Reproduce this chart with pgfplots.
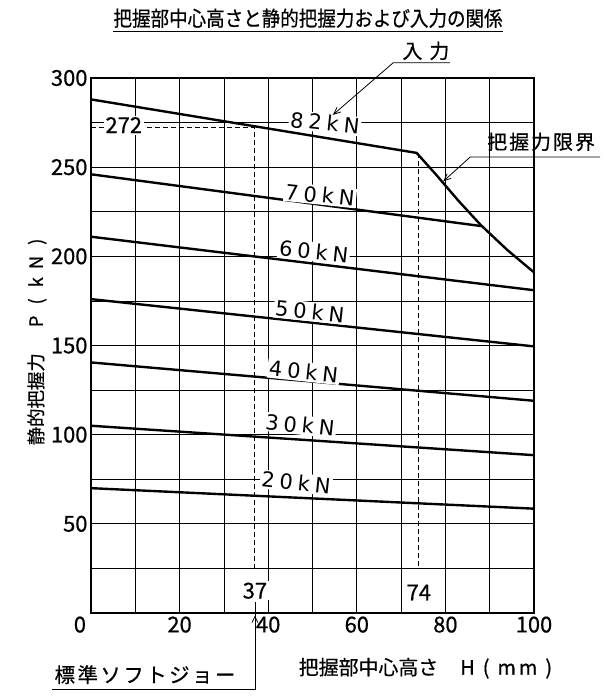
\documentclass[border=0pt]{standalone}
\usepackage{pgfplots}
\pgfplotsset{compat=1.18}
\usepackage{fontspec}
\setmainfont{Noto Sans CJK JP}[FakeBold=0.6]
\newfontfamily\lab{DejaVu Sans}
\usetikzlibrary{arrows.meta}
% kN labels, spaced out like the plotter lettering
\newcommand\kn[2]{#1\hspace{5bp}#2\hspace{5bp}k\hspace{5bp}N}

\begin{document}
\begin{tikzpicture}[x=1bp,y=1bp]
\useasboundingbox (-91,-84) rectangle (514,613);
\begin{axis}[
    at={(0,0)}, anchor=south west,
    scale only axis, width=443bp, height=535bp,
    xmin=0, xmax=100, ymin=0, ymax=300,
    xtick={20,40,60,80,100},
    minor xtick={10,30,50,70,90},
    ytick={50,100,...,300},
    minor ytick={25,75,...,275},
    grid=both,
    major grid style={black, line width=0.8pt},
    minor grid style={black, line width=0.8pt},
    major tick length=0pt, minor tick length=0pt,
    axis line style={black, line width=1.3pt},
    tick label style={font=\fontsize{22}{24}\selectfont},
    /pgf/number format/assume math mode=true,
    clip=false,
]
% input force lines (kN)
\addplot[black, line width=2.4pt] coordinates {(0,288) (73.5,258) (78,245.5) (83,231) (88,217.5) (94,203.5) (100,191)};
\addplot[black, line width=2.4pt] coordinates {(0,246) (88,217)};
\addplot[black, line width=2.4pt] coordinates {(0,211) (100,181)};
\addplot[black, line width=2.4pt] coordinates {(0,176) (100,149.5)};
\addplot[black, line width=2.4pt] coordinates {(0,140.5) (100,119)};
\addplot[black, line width=2.4pt] coordinates {(0,105) (100,88.5)};
\addplot[black, line width=2.4pt] coordinates {(0,70) (100,58.5)};
\draw[black, line width=1pt] (axis cs:100,191) -- (axis cs:100,181);

% read-off lines at H=37 and H=74
\addplot[black, line width=0.9pt, dash pattern=on 5bp off 3bp] coordinates {(0,272) (37,272) (37,25)};
\addplot[black, line width=0.9pt, dash pattern=on 5bp off 3bp] coordinates {(74,258) (74,25)};

\begin{scope}[every node/.style={fill=white, inner sep=1.5bp, rotate=-6, font=\lab\fontsize{21}{23}\selectfont}]
\node at (axis cs:52.8,274.8) {\kn82};
\node at (axis cs:51.7,234.4) {\kn70};
\node at (axis cs:50.3,202.6) {\kn60};
\node at (axis cs:49.4,169.0) {\kn50};
\node at (axis cs:48.0,135.3) {\kn40};
\node at (axis cs:47.2,105.4) {\kn30};
\node at (axis cs:46.3,73.1) {\kn20};
\end{scope}

\begin{scope}[every node/.style={fill=white, inner sep=1.5bp, font=\fontsize{22}{24}\selectfont}]
\node at (axis cs:7.4,273.6) {272};
\node at (axis cs:37,12.5) {37};
\node at (axis cs:74,11.5) {74};
\end{scope}
\node[anchor=north, inner sep=0.333em, font=\fontsize{22}{24}\selectfont] at (axis cs:-2.5,0) {0};

% standard soft jaw pointer
\draw[line width=0.8pt] (axis cs:37,6) -- (axis cs:37,-43) -- (axis cs:-8.8,-43);
\draw[line width=0.8pt, -{Straight Barb[length=6bp,width=6bp]}] (axis cs:37,-10) -- (axis cs:37,-1.5);
\node[anchor=south, inner sep=0pt, font=\fontsize{20.5}{22}\selectfont] at (axis cs:12.2,-40)
  {標\hspace{2.5bp}準\hspace{2.5bp}ソ\hspace{2.5bp}フ\hspace{2.5bp}ト\hspace{2.5bp}ジ\hspace{2.5bp}ョ\hspace{2.5bp}ー};

% axis labels
\node[font=\fontsize{20}{22}\selectfont] at (axis cs:75.5,-31)
  {把握部中心高さ\hspace{22bp}H\hspace{8bp}(\hspace{8bp}m\hspace{3bp}m\hspace{8bp})};
\node[rotate=90, font=\fontsize{18.5}{20}\selectfont] at (axis cs:-12.2,152)
  {静的把握力\hspace{26bp}P\hspace{11bp}(\hspace{11bp}k\hspace{8bp}N\hspace{11bp})};

% title
\node[inner sep=0pt, yscale=1.12, font=\fontsize{18.6}{20}\selectfont] at (axis cs:49,333.5) {把握部中心高さと静的把握力および入力の関係};
\draw[line width=1.3pt] (axis cs:5,326) -- (axis cs:93,326);

% leader: input
\node[font=\fontsize{20}{22}\selectfont] at (axis cs:75.6,315.2) {入\hspace{7bp}力};
\draw[line width=0.8pt, -{Straight Barb[length=7bp,width=6bp]}] (axis cs:81,308.5) -- (axis cs:68.2,308.5) -- (axis cs:54.6,279.3);

% leader: gripping force limit
\node[font=\fontsize{20}{22}\selectfont] at (axis cs:101.6,264.2) {把\hspace{2bp}握\hspace{2bp}力\hspace{2bp}限\hspace{2bp}界};
\draw[line width=0.8pt, -{Straight Barb[length=7bp,width=6bp]}] (axis cs:114.9,255.7) -- (axis cs:85.6,255.7) -- (axis cs:79.5,242);
\end{axis}
\end{tikzpicture}
\end{document}
